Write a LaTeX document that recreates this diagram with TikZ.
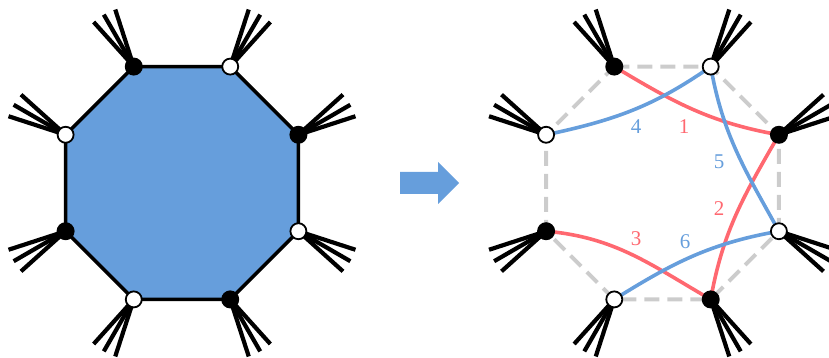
\documentclass[tikz,border=0pt]{standalone}
\usepackage{fontspec}
\setmainfont{Liberation Serif}
\usetikzlibrary{calc}
\definecolor{fillblue}{RGB}{102,158,220}
\definecolor{curvered}{RGB}{255,104,112}
\definecolor{edgegray}{RGB}{204,204,204}
\tikzset{
  blackvtx/.style={circle,fill=black,inner sep=0pt,minimum size=18pt},
  whitevtx/.style={circle,draw=black,line width=1.8pt,fill=white,inner sep=0pt,minimum size=16pt},
  fanline/.style={line width=4.2pt},
  redcurve/.style={curvered,line width=3.6pt},
  bluecurve/.style={fillblue,line width=3.6pt},
  curvelabel/.style={font=\fontsize{21}{22}\selectfont,inner sep=0pt}
}
\begin{document}
\begin{tikzpicture}[x=1pt,y=1pt]
    \useasboundingbox (0,0) rectangle (829,358);
    \coordinate (cl) at (182,175);
    \coordinate (cr) at (662.5,175);
    \foreach \side in {l,r}{
        \foreach \k in {1,...,8}{
            \pgfmathsetmacro{\ang}{157.5-45*\k}
            \coordinate (\side\k) at ($(c\side)+(\ang:126)$);
        }
    }
    \foreach \side in {l,r}{
        \foreach \k in {1,...,8}{
            \pgfmathsetmacro{\fan}{157.5-45*\k+7.5*(1-2*mod(\k+1,2))}
            \foreach \d in {-12,0,12}
                \draw[fanline] (\side\k) -- ++(\fan+\d:60);
        }
    }
    \filldraw[fill=fillblue,line width=3.5pt] (l1) -- (l2) -- (l3) -- (l4) -- (l5) -- (l6) -- (l7) -- (l8) -- cycle;
    \draw[edgegray,line width=4pt,dash pattern=on 15pt off 8pt] (r1) -- (r2) -- (r3) -- (r4) -- (r5) -- (r6) -- (r7) -- (r8) -- cycle;
    \draw[redcurve] (r1) to[out=-31,in=170] (r3);
    \draw[redcurve] (r3) to[out=240,in=80] (r5);
    \draw[redcurve] (r7) to[out=-5,in=150] (r5);
    \draw[bluecurve] (r8) to[out=12,in=215] (r2);
    \draw[bluecurve] (r2) to[out=-80,in=119] (r4);
    \draw[bluecurve] (r6) to[out=32,in=190] (r4);
    \foreach \side in {l,r}{
        \foreach \k in {1,3,5,7}
            \node[blackvtx] (dot\side\k) at (\side\k) {};
        \foreach \k in {2,4,6,8}
            \node[whitevtx] (dot\side\k) at (\side\k) {};
    }
    \node[curvelabel,text=fillblue] (lab4) at (636,231) {4};
    \node[curvelabel,text=curvered] (lab1) at (684,231) {1};
    \node[curvelabel,text=fillblue] (lab5) at (719,196) {5};
    \node[curvelabel,text=curvered] (lab2) at (719,149) {2};
    \node[curvelabel,text=curvered] (lab3) at (636,119) {3};
    \node[curvelabel,text=fillblue] (lab6) at (685,116) {6};
    \fill[fillblue] (400,164) -- (438,164) -- (438,154) -- (459,175) -- (438,196) -- (438,186) -- (400,186) -- cycle;
\end{tikzpicture}
\end{document}
